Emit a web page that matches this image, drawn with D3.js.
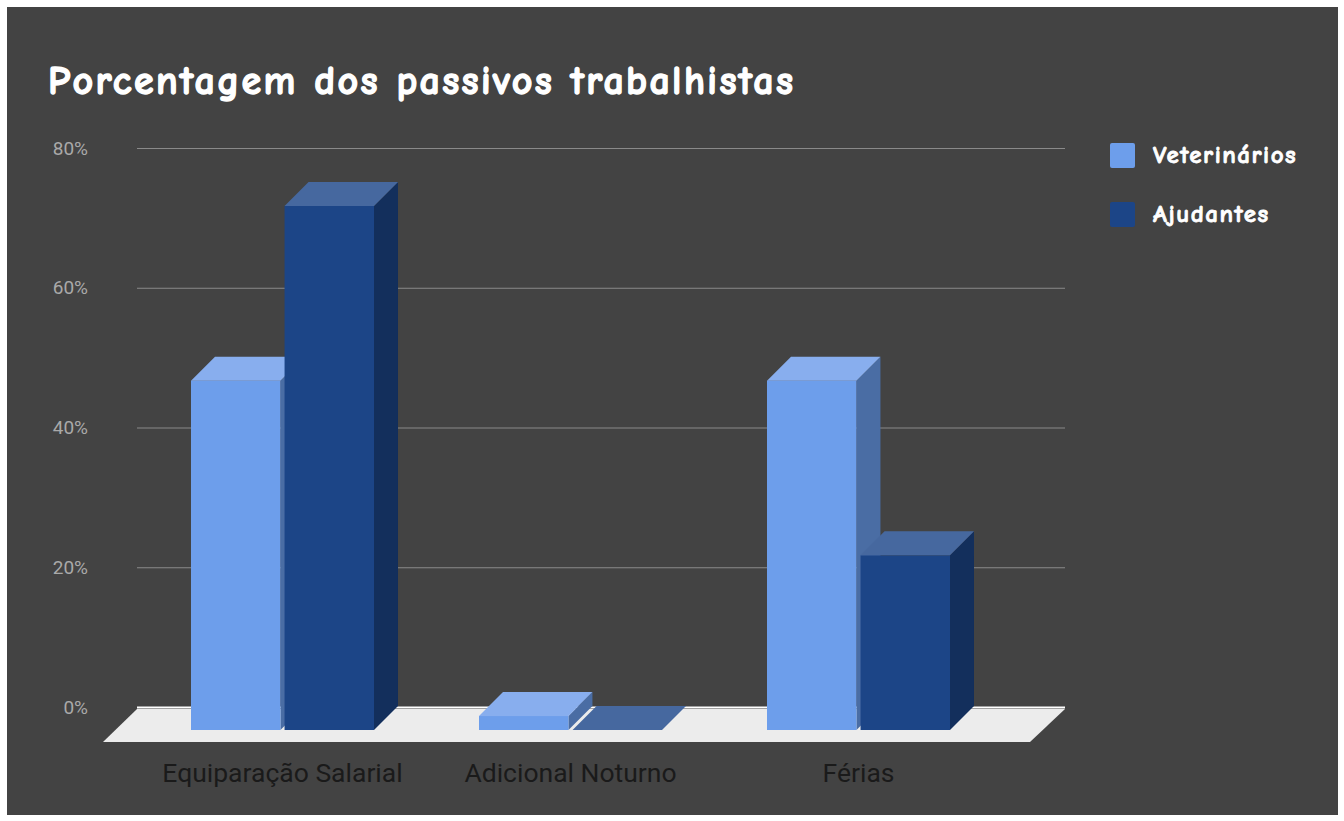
<!DOCTYPE html>
<html>
<head>
<meta charset="utf-8">
<script src="https://cdn.jsdelivr.net/npm/d3@7"></script>
<style>
  body { margin: 0; background: #fff; }
  svg { display: block; }
</style>
</head>
<body>
<svg id="chart" width="1344" height="821"></svg>
<script>
const categories = ["Equiparação Salarial", "Adicional Noturno", "Férias"];
const seriesNames = ["Veterinários", "Ajudantes"];
const veterinarios = [50, 2, 50];
const ajudantes = [75, 0, 25];
const yTicks = [0, 20, 40, 60, 80];

const title = "Porcentagem dos passivos trabalhistas";

// colours per series: front, top, side
const palette = {
  "Veterinários": { front: "#6d9eeb", top: "#88aeee", side: "#4a6da4" },
  "Ajudantes": { front: "#1c4587", top: "#46689f", side: "#132f5c" }
};

const depth = 24; // 3d offset of bars
const wallLeft = 137;
const wallRight = 1065;
const comicFont = "'Comic Sans MS', 'Comic Neue', 'DejaVu Sans', sans-serif";

const svg = d3.select("#chart");

svg.append("rect")
  .attr("x", 7).attr("y", 7)
  .attr("width", 1331).attr("height", 808)
  .attr("fill", "#434343");

svg.append("text")
  .attr("x", 48).attr("y", 94)
  .attr("fill", "#fff")
  .attr("stroke", "#fff")
  .attr("stroke-width", 1.3)
  .style("font-family", comicFont)
  .style("font-weight", "bold")
  .style("font-size", "40px")
  .style("letter-spacing", "2.35px")
  .text(title);

// y scale lives on the back wall
const yScale = d3.scaleLinear().domain([0, 80]).range([707, 148]);

const xScale = d3.scaleBand()
  .domain(categories)
  .range([138.5, 1002.5])
  .paddingInner(0.3646)
  .paddingOuter(0.1823);

const xSub = d3.scaleBand()
  .domain(seriesNames)
  .range([0, xScale.bandwidth()])
  .paddingInner(0.044);

// gridlines + labels
const yAxis = d3.axisLeft(yScale)
  .tickValues(yTicks)
  .tickSize(-(wallRight - wallLeft))
  .tickFormat((d) => d + "%");

const yAxisG = svg.append("g")
  .attr("transform", `translate(${wallLeft},0)`)
  .call(yAxis);
yAxisG.select(".domain").remove();
yAxisG.selectAll(".tick line")
  .attr("stroke", (d) => (d === 0 ? "#ffffff" : "#8a8a8a"))
  .attr("stroke-width", (d) => (d === 0 ? 2 : 1));
yAxisG.selectAll(".tick text")
  .attr("x", -49)
  .attr("fill", "#a9a9a9")
  .style("font-family", "Roboto, sans-serif")
  .style("font-size", "19px");

// floor
const floorTop = yScale(0) + 2;
const floorBottom = 742;
svg.append("path")
  .attr("d", `M${wallLeft},${floorTop} L${wallRight},${floorTop} L${wallRight - 35},${floorBottom} L${wallLeft - 34},${floorBottom} Z`)
  .attr("fill", "#ececec");

// bars
const barData = [];
categories.forEach((c, i) => {
  barData.push({ cat: c, series: "Veterinários", value: veterinarios[i] });
  barData.push({ cat: c, series: "Ajudantes", value: ajudantes[i] });
});

const bar = svg.append("g")
  .selectAll("g.bar")
  .data(barData)
  .join("g")
  .attr("class", "bar");

function geom(d) {
  const x = xScale(d.cat) + xSub(d.series);
  const w = xSub.bandwidth();
  const base = yScale(0) + depth - 1;
  const top = yScale(d.value) + depth - 1;
  return { x, w, base, top };
}

bar.append("path") // side
  .attr("d", (d) => {
    const g = geom(d);
    return `M${g.x + g.w},${g.top} L${g.x + g.w + depth},${g.top - depth} L${g.x + g.w + depth},${g.base - depth} L${g.x + g.w},${g.base} Z`;
  })
  .attr("fill", (d) => palette[d.series].side);

bar.append("rect") // front
  .attr("x", (d) => geom(d).x)
  .attr("y", (d) => geom(d).top)
  .attr("width", (d) => geom(d).w)
  .attr("height", (d) => geom(d).base - geom(d).top)
  .attr("fill", (d) => palette[d.series].front);

bar.append("path") // top
  .attr("d", (d) => {
    const g = geom(d);
    return `M${g.x},${g.top} L${g.x + g.w},${g.top} L${g.x + g.w + depth},${g.top - depth} L${g.x + depth},${g.top - depth} Z`;
  })
  .attr("fill", (d) => palette[d.series].top);

// category labels
const xAxis = d3.axisBottom(xScale).tickSize(0);
const xAxisG = svg.append("g")
  .attr("transform", "translate(0,782)")
  .call(xAxis);
xAxisG.select(".domain").remove();
xAxisG.selectAll(".tick text")
  .attr("y", 0)
  .attr("dy", "0")
  .attr("fill", "#1a1a1a")
  .style("font-family", "Roboto, sans-serif")
  .style("font-size", "26.5px");

// legend
const legend = svg.append("g")
  .selectAll("g")
  .data(seriesNames)
  .join("g")
  .attr("transform", (d, i) => `translate(1110,${143 + i * 59})`);
legend.append("rect")
  .attr("width", 25).attr("height", 25)
  .attr("rx", 2)
  .attr("fill", (d) => palette[d].front);
legend.append("text")
  .attr("x", 43).attr("y", 20)
  .attr("fill", "#fff")
  .attr("stroke", "#fff")
  .attr("stroke-width", 0.8)
  .style("font-family", comicFont)
  .style("font-weight", "bold")
  .style("font-size", "25px")
  .style("letter-spacing", "1.5px")
  .text((d) => d);
</script>
</body>
</html>
